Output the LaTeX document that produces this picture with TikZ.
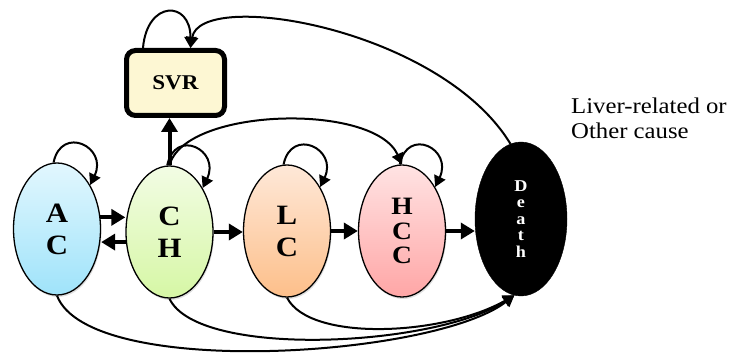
\documentclass[tikz,border=0pt]{standalone}
\usepackage{fontspec}
\setmainfont[FakeStretch=1.1]{Liberation Serif}
\usetikzlibrary{arrows.meta,shapes.geometric,shadows,calc}
\definecolor{acT}{HTML}{E2F7FE}\definecolor{acB}{HTML}{9FE3FA}
\definecolor{chT}{HTML}{F2FCE4}\definecolor{chB}{HTML}{D6F7A5}
\definecolor{lcT}{HTML}{FEE8D8}\definecolor{lcB}{HTML}{FDBF8A}
\definecolor{hcT}{HTML}{FFE3E3}\definecolor{hcB}{HTML}{FFA6A6}
\definecolor{svrF}{HTML}{FDF7D3}
\begin{document}
\begin{tikzpicture}[x=1pt,y=-1pt,
  state/.style={ellipse, draw, line width=1.3pt, inner sep=0pt,
    minimum width=87pt, minimum height=132pt,
    font=\bfseries\fontsize{28}{32}\selectfont, align=center,
    drop shadow={opacity=0.25,shadow xshift=1pt,shadow yshift=-2pt}},
  fat/.style={line width=4pt, -{Triangle[length=14pt,width=16pt]}},
  curve/.style={line width=2pt, -{Triangle[length=11pt,width=12pt]}},
]
\useasboundingbox (0,0) rectangle (734,358);

\node[state, top color=acT, bottom color=acB] (AC) at (57,229) {A\\C};
\node[state, top color=chT, bottom color=chB] (CH) at (169.5,232) {C\\H};
\node[state, top color=lcT, bottom color=lcB] (LC) at (287,231) {L\\C};
\node[state, top color=hcT, bottom color=hcB, font=\bfseries\fontsize{25}{24.5}\selectfont] (HCC) at (402,231) {H\\C\\C};
\node[ellipse, fill=black, draw=black, inner sep=0pt, minimum width=92pt, minimum height=154pt,
  text=white, font=\bfseries\fontsize{16.5}{16.5}\selectfont, align=center] (Death) at (521,219) {D\\e\\a\\t\\h};
\node[draw, line width=5pt, rounded corners=9pt, fill=svrF, minimum width=98pt, minimum height=65pt,
  font=\bfseries\fontsize{21}{24}\selectfont,
  drop shadow={opacity=0.3,shadow xshift=1pt,shadow yshift=-2pt}] (SVR) at (175.5,83) {SVR};
\node[anchor=west, align=left, inner sep=0pt, font=\fontsize{22.5}{25}\selectfont] (lbl) at (571,118) {Liver-related or\\Other cause};

% horizontal arrows
\draw[fat] (AC.15) -- (AC.15 -| CH.west);
\draw[fat] (CH.193) -- (CH.193 -| AC.east);
\draw[fat] (CH.east) -- (CH.east -| LC.west);
\draw[fat] (LC.east) -- (LC.east -| HCC.west);
\draw[fat] (HCC.east) -- (HCC.east -| Death.west);
\draw[fat] (CH.north) -- (CH.north |- SVR.south);

% self loops
\draw[curve] (AC.93) .. controls +(8,-38) and +(18,-38) .. (AC.53);
\draw[curve] (CH.92) .. controls +(8,-38) and +(18,-38) .. (CH.53);
\draw[curve] (LC.93) .. controls +(8,-38) and +(18,-38) .. (LC.53);
\draw[curve] (HCC.92) .. controls +(8,-38) and +(18,-38) .. (HCC.53);
\coordinate (svrIn) at ($(SVR.north)+(15,0)$);
\draw[curve] ($(SVR.north west)+(19,0)$) .. controls +(4,-48) and +(0,-48) .. (svrIn);

% long arcs
\draw[curve] (CH.north) .. controls +(15,-58) and +(-28,-62) .. (HCC.north);
\draw[curve] (Death.98) .. controls (440,28) and (200,-12) .. (svrIn);
\draw[curve] (AC.south) .. controls +(32,84) and +(-80,62) .. (Death.265);
\draw[curve] (CH.south) .. controls +(28,60) and +(-80,52) .. (Death.265);
\draw[curve] (LC.south) .. controls +(23,45) and +(-70,40) .. (Death.265);
\end{tikzpicture}
\end{document}
